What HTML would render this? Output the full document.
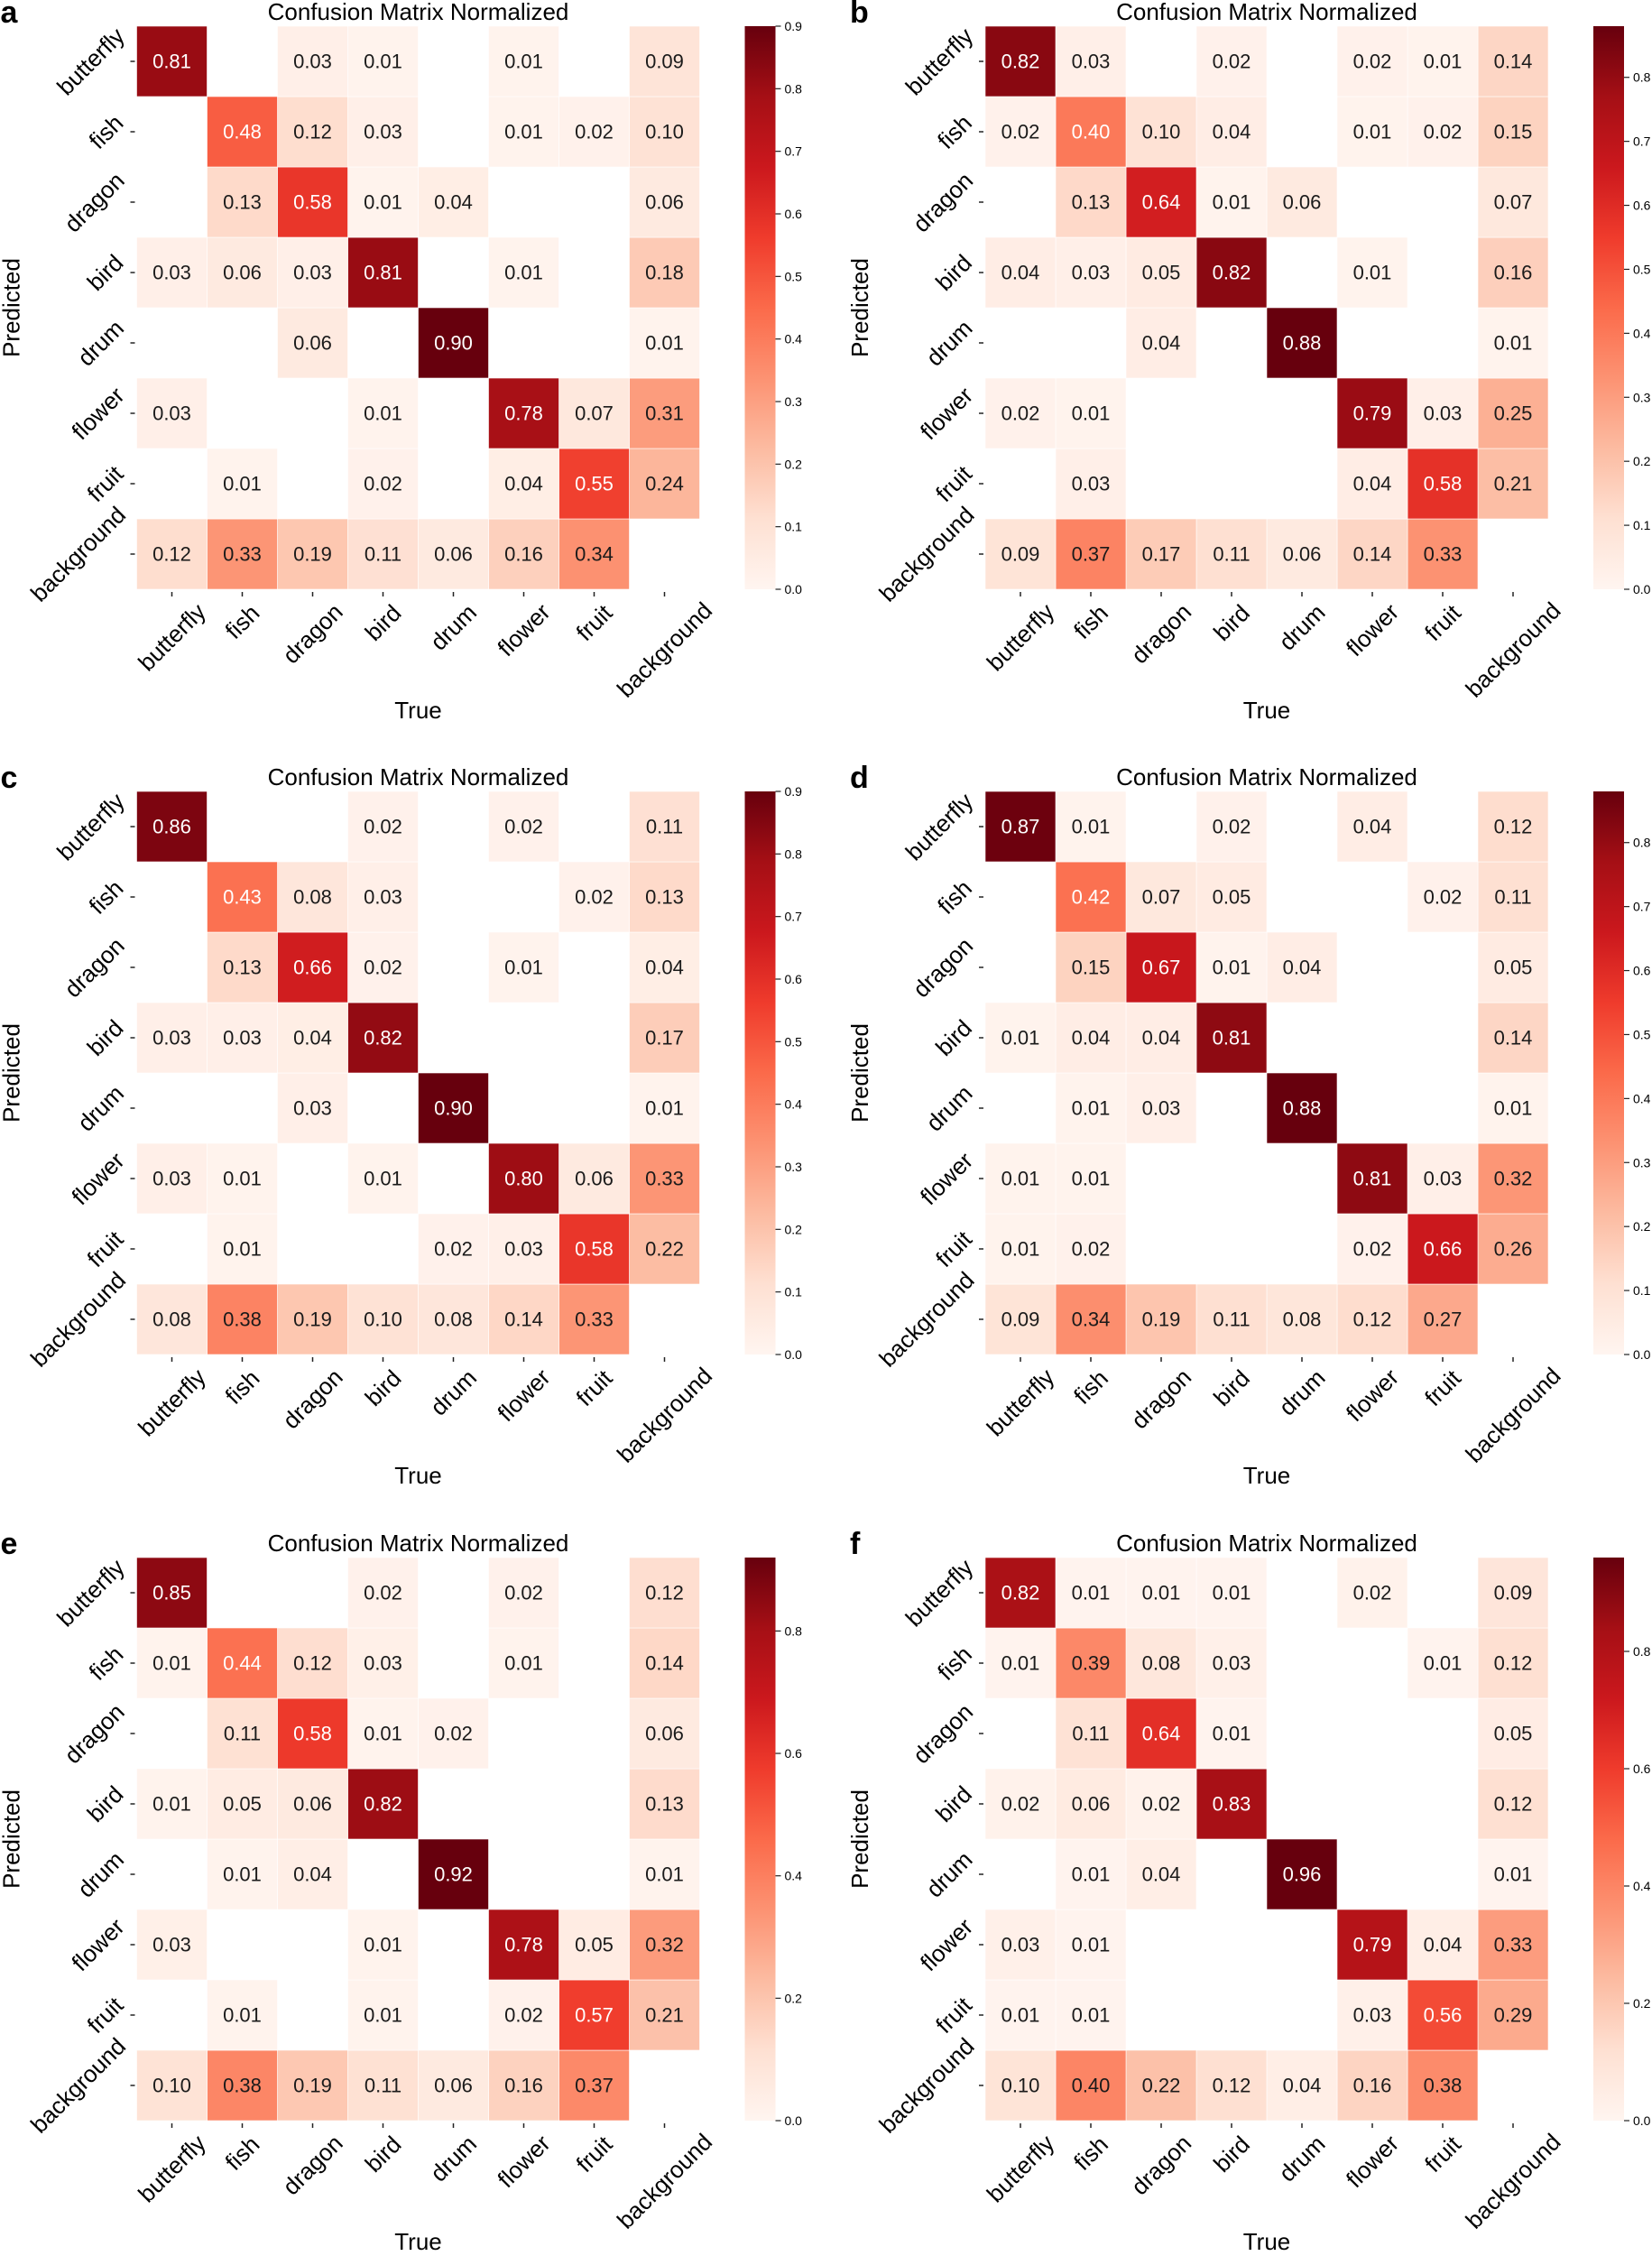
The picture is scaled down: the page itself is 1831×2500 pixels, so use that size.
<!DOCTYPE html>
<html><head><meta charset="utf-8"><style>
html,body{margin:0;padding:0;background:#fff;}
svg{display:block;font-family:"Liberation Sans",Arial,sans-serif;}
.v{font-size:22px;text-anchor:middle;dominant-baseline:central;}
.yl,.xl{font-size:26px;text-anchor:middle;dominant-baseline:central;fill:#000;}
.t{font-size:26px;text-anchor:middle;fill:#000;}
.L{font-size:34px;font-weight:bold;fill:#000;}
.cb{font-size:14px;dominant-baseline:central;fill:#000;}
</style></head><body>
<svg id="s" width="1831" height="2500" viewBox="0 0 1831 2500" xmlns="http://www.w3.org/2000/svg">
<defs><linearGradient id="rg" x1="0" y1="1" x2="0" y2="0">
<stop offset="0" stop-color="#fff5f0"/><stop offset="0.125" stop-color="#fee0d2"/><stop offset="0.25" stop-color="#fcbba1"/><stop offset="0.375" stop-color="#fc9272"/><stop offset="0.5" stop-color="#fb6a4a"/><stop offset="0.625" stop-color="#ef3b2c"/><stop offset="0.75" stop-color="#cb181d"/><stop offset="0.875" stop-color="#a50f15"/><stop offset="1" stop-color="#67000d"/>
</linearGradient></defs>

<!-- Panel a -->
<g class="panel" vmax="0.9" transform="translate(151.5,29)">
<text class="L" x="-151" y="-4">a</text>
<text class="t" x="312" y="-7">Confusion Matrix Normalized</text>
<g class="cells">
<text class="v" x="39" y="39">0.81</text><text class="v" x="195" y="39">0.03</text><text class="v" x="273" y="39">0.01</text><text class="v" x="429" y="39">0.01</text><text class="v" x="585" y="39">0.09</text>
<text class="v" x="117" y="117">0.48</text><text class="v" x="195" y="117">0.12</text><text class="v" x="273" y="117">0.03</text><text class="v" x="429" y="117">0.01</text><text class="v" x="507" y="117">0.02</text><text class="v" x="585" y="117">0.10</text>
<text class="v" x="117" y="195">0.13</text><text class="v" x="195" y="195">0.58</text><text class="v" x="273" y="195">0.01</text><text class="v" x="351" y="195">0.04</text><text class="v" x="585" y="195">0.06</text>
<text class="v" x="39" y="273">0.03</text><text class="v" x="117" y="273">0.06</text><text class="v" x="195" y="273">0.03</text><text class="v" x="273" y="273">0.81</text><text class="v" x="429" y="273">0.01</text><text class="v" x="585" y="273">0.18</text>
<text class="v" x="195" y="351">0.06</text><text class="v" x="351" y="351">0.90</text><text class="v" x="585" y="351">0.01</text>
<text class="v" x="39" y="429">0.03</text><text class="v" x="273" y="429">0.01</text><text class="v" x="429" y="429">0.78</text><text class="v" x="507" y="429">0.07</text><text class="v" x="585" y="429">0.31</text>
<text class="v" x="117" y="507">0.01</text><text class="v" x="273" y="507">0.02</text><text class="v" x="429" y="507">0.04</text><text class="v" x="507" y="507">0.55</text><text class="v" x="585" y="507">0.24</text>
<text class="v" x="39" y="585">0.12</text><text class="v" x="117" y="585">0.33</text><text class="v" x="195" y="585">0.19</text><text class="v" x="273" y="585">0.11</text><text class="v" x="351" y="585">0.06</text><text class="v" x="429" y="585">0.16</text><text class="v" x="507" y="585">0.34</text>
</g>
<g class="lab">
<text class="yl" transform="translate(-51,39) rotate(-45)">butterfly</text>
<text class="yl" transform="translate(-34,117) rotate(-45)">fish</text>
<text class="yl" transform="translate(-47,195) rotate(-45)">dragon</text>
<text class="yl" transform="translate(-35,273) rotate(-45)">bird</text>
<text class="yl" transform="translate(-40,351) rotate(-45)">drum</text>
<text class="yl" transform="translate(-43,429) rotate(-45)">flower</text>
<text class="yl" transform="translate(-35,507) rotate(-45)">fruit</text>
<text class="yl" transform="translate(-65,585) rotate(-45)">background</text>
<text class="xl" transform="translate(39,677) rotate(-45)">butterfly</text>
<text class="xl" transform="translate(117,660) rotate(-45)">fish</text>
<text class="xl" transform="translate(195,673) rotate(-45)">dragon</text>
<text class="xl" transform="translate(273,661) rotate(-45)">bird</text>
<text class="xl" transform="translate(351,666) rotate(-45)">drum</text>
<text class="xl" transform="translate(429,669) rotate(-45)">flower</text>
<text class="xl" transform="translate(507,661) rotate(-45)">fruit</text>
<text class="xl" transform="translate(585,691) rotate(-45)">background</text>
<text class="t" x="312" y="767">True</text>
<text class="t" transform="translate(-130,312) rotate(-90)">Predicted</text>
</g>
</g>

<!-- Panel b -->
<g class="panel" vmax="0.88" transform="translate(1092,29)">
<text class="L" x="-150" y="-4">b</text>
<text class="t" x="312" y="-7">Confusion Matrix Normalized</text>
<g class="cells">
<text class="v" x="39" y="39">0.82</text><text class="v" x="117" y="39">0.03</text><text class="v" x="273" y="39">0.02</text><text class="v" x="429" y="39">0.02</text><text class="v" x="507" y="39">0.01</text><text class="v" x="585" y="39">0.14</text>
<text class="v" x="39" y="117">0.02</text><text class="v" x="117" y="117">0.40</text><text class="v" x="195" y="117">0.10</text><text class="v" x="273" y="117">0.04</text><text class="v" x="429" y="117">0.01</text><text class="v" x="507" y="117">0.02</text><text class="v" x="585" y="117">0.15</text>
<text class="v" x="117" y="195">0.13</text><text class="v" x="195" y="195">0.64</text><text class="v" x="273" y="195">0.01</text><text class="v" x="351" y="195">0.06</text><text class="v" x="585" y="195">0.07</text>
<text class="v" x="39" y="273">0.04</text><text class="v" x="117" y="273">0.03</text><text class="v" x="195" y="273">0.05</text><text class="v" x="273" y="273">0.82</text><text class="v" x="429" y="273">0.01</text><text class="v" x="585" y="273">0.16</text>
<text class="v" x="195" y="351">0.04</text><text class="v" x="351" y="351">0.88</text><text class="v" x="585" y="351">0.01</text>
<text class="v" x="39" y="429">0.02</text><text class="v" x="117" y="429">0.01</text><text class="v" x="429" y="429">0.79</text><text class="v" x="507" y="429">0.03</text><text class="v" x="585" y="429">0.25</text>
<text class="v" x="117" y="507">0.03</text><text class="v" x="429" y="507">0.04</text><text class="v" x="507" y="507">0.58</text><text class="v" x="585" y="507">0.21</text>
<text class="v" x="39" y="585">0.09</text><text class="v" x="117" y="585">0.37</text><text class="v" x="195" y="585">0.17</text><text class="v" x="273" y="585">0.11</text><text class="v" x="351" y="585">0.06</text><text class="v" x="429" y="585">0.14</text><text class="v" x="507" y="585">0.33</text>
</g>
<g class="lab">
<text class="yl" transform="translate(-51,39) rotate(-45)">butterfly</text>
<text class="yl" transform="translate(-34,117) rotate(-45)">fish</text>
<text class="yl" transform="translate(-47,195) rotate(-45)">dragon</text>
<text class="yl" transform="translate(-35,273) rotate(-45)">bird</text>
<text class="yl" transform="translate(-40,351) rotate(-45)">drum</text>
<text class="yl" transform="translate(-43,429) rotate(-45)">flower</text>
<text class="yl" transform="translate(-35,507) rotate(-45)">fruit</text>
<text class="yl" transform="translate(-65,585) rotate(-45)">background</text>
<text class="xl" transform="translate(39,677) rotate(-45)">butterfly</text>
<text class="xl" transform="translate(117,660) rotate(-45)">fish</text>
<text class="xl" transform="translate(195,673) rotate(-45)">dragon</text>
<text class="xl" transform="translate(273,661) rotate(-45)">bird</text>
<text class="xl" transform="translate(351,666) rotate(-45)">drum</text>
<text class="xl" transform="translate(429,669) rotate(-45)">flower</text>
<text class="xl" transform="translate(507,661) rotate(-45)">fruit</text>
<text class="xl" transform="translate(585,691) rotate(-45)">background</text>
<text class="t" x="312" y="767">True</text>
<text class="t" transform="translate(-130,312) rotate(-90)">Predicted</text>
</g>
</g>

<!-- Panel c -->
<g class="panel" vmax="0.9" transform="translate(151.5,877)">
<text class="L" x="-151" y="-4">c</text>
<text class="t" x="312" y="-7">Confusion Matrix Normalized</text>
<g class="cells">
<text class="v" x="39" y="39">0.86</text><text class="v" x="273" y="39">0.02</text><text class="v" x="429" y="39">0.02</text><text class="v" x="585" y="39">0.11</text>
<text class="v" x="117" y="117">0.43</text><text class="v" x="195" y="117">0.08</text><text class="v" x="273" y="117">0.03</text><text class="v" x="507" y="117">0.02</text><text class="v" x="585" y="117">0.13</text>
<text class="v" x="117" y="195">0.13</text><text class="v" x="195" y="195">0.66</text><text class="v" x="273" y="195">0.02</text><text class="v" x="429" y="195">0.01</text><text class="v" x="585" y="195">0.04</text>
<text class="v" x="39" y="273">0.03</text><text class="v" x="117" y="273">0.03</text><text class="v" x="195" y="273">0.04</text><text class="v" x="273" y="273">0.82</text><text class="v" x="585" y="273">0.17</text>
<text class="v" x="195" y="351">0.03</text><text class="v" x="351" y="351">0.90</text><text class="v" x="585" y="351">0.01</text>
<text class="v" x="39" y="429">0.03</text><text class="v" x="117" y="429">0.01</text><text class="v" x="273" y="429">0.01</text><text class="v" x="429" y="429">0.80</text><text class="v" x="507" y="429">0.06</text><text class="v" x="585" y="429">0.33</text>
<text class="v" x="117" y="507">0.01</text><text class="v" x="351" y="507">0.02</text><text class="v" x="429" y="507">0.03</text><text class="v" x="507" y="507">0.58</text><text class="v" x="585" y="507">0.22</text>
<text class="v" x="39" y="585">0.08</text><text class="v" x="117" y="585">0.38</text><text class="v" x="195" y="585">0.19</text><text class="v" x="273" y="585">0.10</text><text class="v" x="351" y="585">0.08</text><text class="v" x="429" y="585">0.14</text><text class="v" x="507" y="585">0.33</text>
</g>
<g class="lab">
<text class="yl" transform="translate(-51,39) rotate(-45)">butterfly</text>
<text class="yl" transform="translate(-34,117) rotate(-45)">fish</text>
<text class="yl" transform="translate(-47,195) rotate(-45)">dragon</text>
<text class="yl" transform="translate(-35,273) rotate(-45)">bird</text>
<text class="yl" transform="translate(-40,351) rotate(-45)">drum</text>
<text class="yl" transform="translate(-43,429) rotate(-45)">flower</text>
<text class="yl" transform="translate(-35,507) rotate(-45)">fruit</text>
<text class="yl" transform="translate(-65,585) rotate(-45)">background</text>
<text class="xl" transform="translate(39,677) rotate(-45)">butterfly</text>
<text class="xl" transform="translate(117,660) rotate(-45)">fish</text>
<text class="xl" transform="translate(195,673) rotate(-45)">dragon</text>
<text class="xl" transform="translate(273,661) rotate(-45)">bird</text>
<text class="xl" transform="translate(351,666) rotate(-45)">drum</text>
<text class="xl" transform="translate(429,669) rotate(-45)">flower</text>
<text class="xl" transform="translate(507,661) rotate(-45)">fruit</text>
<text class="xl" transform="translate(585,691) rotate(-45)">background</text>
<text class="t" x="312" y="767">True</text>
<text class="t" transform="translate(-130,312) rotate(-90)">Predicted</text>
</g>
</g>

<!-- Panel d -->
<g class="panel" vmax="0.88" transform="translate(1092,877)">
<text class="L" x="-150" y="-4">d</text>
<text class="t" x="312" y="-7">Confusion Matrix Normalized</text>
<g class="cells">
<text class="v" x="39" y="39">0.87</text><text class="v" x="117" y="39">0.01</text><text class="v" x="273" y="39">0.02</text><text class="v" x="429" y="39">0.04</text><text class="v" x="585" y="39">0.12</text>
<text class="v" x="117" y="117">0.42</text><text class="v" x="195" y="117">0.07</text><text class="v" x="273" y="117">0.05</text><text class="v" x="507" y="117">0.02</text><text class="v" x="585" y="117">0.11</text>
<text class="v" x="117" y="195">0.15</text><text class="v" x="195" y="195">0.67</text><text class="v" x="273" y="195">0.01</text><text class="v" x="351" y="195">0.04</text><text class="v" x="585" y="195">0.05</text>
<text class="v" x="39" y="273">0.01</text><text class="v" x="117" y="273">0.04</text><text class="v" x="195" y="273">0.04</text><text class="v" x="273" y="273">0.81</text><text class="v" x="585" y="273">0.14</text>
<text class="v" x="117" y="351">0.01</text><text class="v" x="195" y="351">0.03</text><text class="v" x="351" y="351">0.88</text><text class="v" x="585" y="351">0.01</text>
<text class="v" x="39" y="429">0.01</text><text class="v" x="117" y="429">0.01</text><text class="v" x="429" y="429">0.81</text><text class="v" x="507" y="429">0.03</text><text class="v" x="585" y="429">0.32</text>
<text class="v" x="39" y="507">0.01</text><text class="v" x="117" y="507">0.02</text><text class="v" x="429" y="507">0.02</text><text class="v" x="507" y="507">0.66</text><text class="v" x="585" y="507">0.26</text>
<text class="v" x="39" y="585">0.09</text><text class="v" x="117" y="585">0.34</text><text class="v" x="195" y="585">0.19</text><text class="v" x="273" y="585">0.11</text><text class="v" x="351" y="585">0.08</text><text class="v" x="429" y="585">0.12</text><text class="v" x="507" y="585">0.27</text>
</g>
<g class="lab">
<text class="yl" transform="translate(-51,39) rotate(-45)">butterfly</text>
<text class="yl" transform="translate(-34,117) rotate(-45)">fish</text>
<text class="yl" transform="translate(-47,195) rotate(-45)">dragon</text>
<text class="yl" transform="translate(-35,273) rotate(-45)">bird</text>
<text class="yl" transform="translate(-40,351) rotate(-45)">drum</text>
<text class="yl" transform="translate(-43,429) rotate(-45)">flower</text>
<text class="yl" transform="translate(-35,507) rotate(-45)">fruit</text>
<text class="yl" transform="translate(-65,585) rotate(-45)">background</text>
<text class="xl" transform="translate(39,677) rotate(-45)">butterfly</text>
<text class="xl" transform="translate(117,660) rotate(-45)">fish</text>
<text class="xl" transform="translate(195,673) rotate(-45)">dragon</text>
<text class="xl" transform="translate(273,661) rotate(-45)">bird</text>
<text class="xl" transform="translate(351,666) rotate(-45)">drum</text>
<text class="xl" transform="translate(429,669) rotate(-45)">flower</text>
<text class="xl" transform="translate(507,661) rotate(-45)">fruit</text>
<text class="xl" transform="translate(585,691) rotate(-45)">background</text>
<text class="t" x="312" y="767">True</text>
<text class="t" transform="translate(-130,312) rotate(-90)">Predicted</text>
</g>
</g>

<!-- Panel e -->
<g class="panel" vmax="0.92" transform="translate(151.5,1726)">
<text class="L" x="-151" y="-4">e</text>
<text class="t" x="312" y="-7">Confusion Matrix Normalized</text>
<g class="cells">
<text class="v" x="39" y="39">0.85</text><text class="v" x="273" y="39">0.02</text><text class="v" x="429" y="39">0.02</text><text class="v" x="585" y="39">0.12</text>
<text class="v" x="39" y="117">0.01</text><text class="v" x="117" y="117">0.44</text><text class="v" x="195" y="117">0.12</text><text class="v" x="273" y="117">0.03</text><text class="v" x="429" y="117">0.01</text><text class="v" x="585" y="117">0.14</text>
<text class="v" x="117" y="195">0.11</text><text class="v" x="195" y="195">0.58</text><text class="v" x="273" y="195">0.01</text><text class="v" x="351" y="195">0.02</text><text class="v" x="585" y="195">0.06</text>
<text class="v" x="39" y="273">0.01</text><text class="v" x="117" y="273">0.05</text><text class="v" x="195" y="273">0.06</text><text class="v" x="273" y="273">0.82</text><text class="v" x="585" y="273">0.13</text>
<text class="v" x="117" y="351">0.01</text><text class="v" x="195" y="351">0.04</text><text class="v" x="351" y="351">0.92</text><text class="v" x="585" y="351">0.01</text>
<text class="v" x="39" y="429">0.03</text><text class="v" x="273" y="429">0.01</text><text class="v" x="429" y="429">0.78</text><text class="v" x="507" y="429">0.05</text><text class="v" x="585" y="429">0.32</text>
<text class="v" x="117" y="507">0.01</text><text class="v" x="273" y="507">0.01</text><text class="v" x="429" y="507">0.02</text><text class="v" x="507" y="507">0.57</text><text class="v" x="585" y="507">0.21</text>
<text class="v" x="39" y="585">0.10</text><text class="v" x="117" y="585">0.38</text><text class="v" x="195" y="585">0.19</text><text class="v" x="273" y="585">0.11</text><text class="v" x="351" y="585">0.06</text><text class="v" x="429" y="585">0.16</text><text class="v" x="507" y="585">0.37</text>
</g>
<g class="lab">
<text class="yl" transform="translate(-51,39) rotate(-45)">butterfly</text>
<text class="yl" transform="translate(-34,117) rotate(-45)">fish</text>
<text class="yl" transform="translate(-47,195) rotate(-45)">dragon</text>
<text class="yl" transform="translate(-35,273) rotate(-45)">bird</text>
<text class="yl" transform="translate(-40,351) rotate(-45)">drum</text>
<text class="yl" transform="translate(-43,429) rotate(-45)">flower</text>
<text class="yl" transform="translate(-35,507) rotate(-45)">fruit</text>
<text class="yl" transform="translate(-65,585) rotate(-45)">background</text>
<text class="xl" transform="translate(39,677) rotate(-45)">butterfly</text>
<text class="xl" transform="translate(117,660) rotate(-45)">fish</text>
<text class="xl" transform="translate(195,673) rotate(-45)">dragon</text>
<text class="xl" transform="translate(273,661) rotate(-45)">bird</text>
<text class="xl" transform="translate(351,666) rotate(-45)">drum</text>
<text class="xl" transform="translate(429,669) rotate(-45)">flower</text>
<text class="xl" transform="translate(507,661) rotate(-45)">fruit</text>
<text class="xl" transform="translate(585,691) rotate(-45)">background</text>
<text class="t" x="312" y="767">True</text>
<text class="t" transform="translate(-130,312) rotate(-90)">Predicted</text>
</g>
</g>

<!-- Panel f -->
<g class="panel" vmax="0.96" transform="translate(1092,1726)">
<text class="L" x="-150" y="-4">f</text>
<text class="t" x="312" y="-7">Confusion Matrix Normalized</text>
<g class="cells">
<text class="v" x="39" y="39">0.82</text><text class="v" x="117" y="39">0.01</text><text class="v" x="195" y="39">0.01</text><text class="v" x="273" y="39">0.01</text><text class="v" x="429" y="39">0.02</text><text class="v" x="585" y="39">0.09</text>
<text class="v" x="39" y="117">0.01</text><text class="v" x="117" y="117">0.39</text><text class="v" x="195" y="117">0.08</text><text class="v" x="273" y="117">0.03</text><text class="v" x="507" y="117">0.01</text><text class="v" x="585" y="117">0.12</text>
<text class="v" x="117" y="195">0.11</text><text class="v" x="195" y="195">0.64</text><text class="v" x="273" y="195">0.01</text><text class="v" x="585" y="195">0.05</text>
<text class="v" x="39" y="273">0.02</text><text class="v" x="117" y="273">0.06</text><text class="v" x="195" y="273">0.02</text><text class="v" x="273" y="273">0.83</text><text class="v" x="585" y="273">0.12</text>
<text class="v" x="117" y="351">0.01</text><text class="v" x="195" y="351">0.04</text><text class="v" x="351" y="351">0.96</text><text class="v" x="585" y="351">0.01</text>
<text class="v" x="39" y="429">0.03</text><text class="v" x="117" y="429">0.01</text><text class="v" x="429" y="429">0.79</text><text class="v" x="507" y="429">0.04</text><text class="v" x="585" y="429">0.33</text>
<text class="v" x="39" y="507">0.01</text><text class="v" x="117" y="507">0.01</text><text class="v" x="429" y="507">0.03</text><text class="v" x="507" y="507">0.56</text><text class="v" x="585" y="507">0.29</text>
<text class="v" x="39" y="585">0.10</text><text class="v" x="117" y="585">0.40</text><text class="v" x="195" y="585">0.22</text><text class="v" x="273" y="585">0.12</text><text class="v" x="351" y="585">0.04</text><text class="v" x="429" y="585">0.16</text><text class="v" x="507" y="585">0.38</text>
</g>
<g class="lab">
<text class="yl" transform="translate(-51,39) rotate(-45)">butterfly</text>
<text class="yl" transform="translate(-34,117) rotate(-45)">fish</text>
<text class="yl" transform="translate(-47,195) rotate(-45)">dragon</text>
<text class="yl" transform="translate(-35,273) rotate(-45)">bird</text>
<text class="yl" transform="translate(-40,351) rotate(-45)">drum</text>
<text class="yl" transform="translate(-43,429) rotate(-45)">flower</text>
<text class="yl" transform="translate(-35,507) rotate(-45)">fruit</text>
<text class="yl" transform="translate(-65,585) rotate(-45)">background</text>
<text class="xl" transform="translate(39,677) rotate(-45)">butterfly</text>
<text class="xl" transform="translate(117,660) rotate(-45)">fish</text>
<text class="xl" transform="translate(195,673) rotate(-45)">dragon</text>
<text class="xl" transform="translate(273,661) rotate(-45)">bird</text>
<text class="xl" transform="translate(351,666) rotate(-45)">drum</text>
<text class="xl" transform="translate(429,669) rotate(-45)">flower</text>
<text class="xl" transform="translate(507,661) rotate(-45)">fruit</text>
<text class="xl" transform="translate(585,691) rotate(-45)">background</text>
<text class="t" x="312" y="767">True</text>
<text class="t" transform="translate(-130,312) rotate(-90)">Predicted</text>
</g>
</g>
</svg>
<script>
(function(){
var NS="http://www.w3.org/2000/svg";
var st=[[255,245,240],[254,224,210],[252,187,161],[252,146,114],[251,106,74],[239,59,44],[203,24,29],[165,15,21],[103,0,13]];
function cm(t){t=Math.max(0,Math.min(1,t));var p=t*8,i=Math.min(7,Math.floor(p)),f=p-i,a=st[i],b=st[i+1];
return "rgb("+[0,1,2].map(function(k){return Math.round(a[k]+(b[k]-a[k])*f);}).join(",")+")";}
function el(n,at,par,before){var e=document.createElementNS(NS,n);for(var k in at)e.setAttribute(k,at[k]);if(before)par.insertBefore(e,before);else par.appendChild(e);return e;}
var panels=document.querySelectorAll("g.panel");
for(var p=0;p<panels.length;p++){
 var g=panels[p],vmax=parseFloat(g.getAttribute("vmax"));
 var cells=g.querySelector("g.cells"),ts=cells.querySelectorAll("text.v");
 for(var i=0;i<ts.length;i++){var t=ts[i],v=parseFloat(t.textContent),x=+t.getAttribute("x"),y=+t.getAttribute("y");
  var n=v/vmax;
  el("rect",{x:x-39,y:y-39,width:78,height:78,fill:cm(n),stroke:"#fff","stroke-width":"0.6"},cells,cells.firstChild);
  t.setAttribute("fill",n>0.44?"#fff":"#1a1a1a");}
 for(var r=0;r<8;r++){el("line",{x1:-7,x2:-2,y1:39+78*r,y2:39+78*r,stroke:"#222","stroke-width":1.5},g);
  el("line",{y1:627,y2:632,x1:39+78*r,x2:39+78*r,stroke:"#222","stroke-width":1.5},g);}
 el("rect",{x:674,y:0,width:34,height:624,fill:"url(#rg)"},g);
 var step=vmax>0.9?0.2:0.1;
 for(var k=0;k<=vmax+1e-9;k+=step){var yy=624*(1-k/vmax);if(yy<-0.5)break;
  el("line",{x1:708,x2:714,y1:yy,y2:yy,stroke:"#222","stroke-width":1.2},g);
  var tx=el("text",{"class":"cb",x:718,y:yy},g);tx.textContent=k.toFixed(1);}
}
})();
</script>
</body></html>
